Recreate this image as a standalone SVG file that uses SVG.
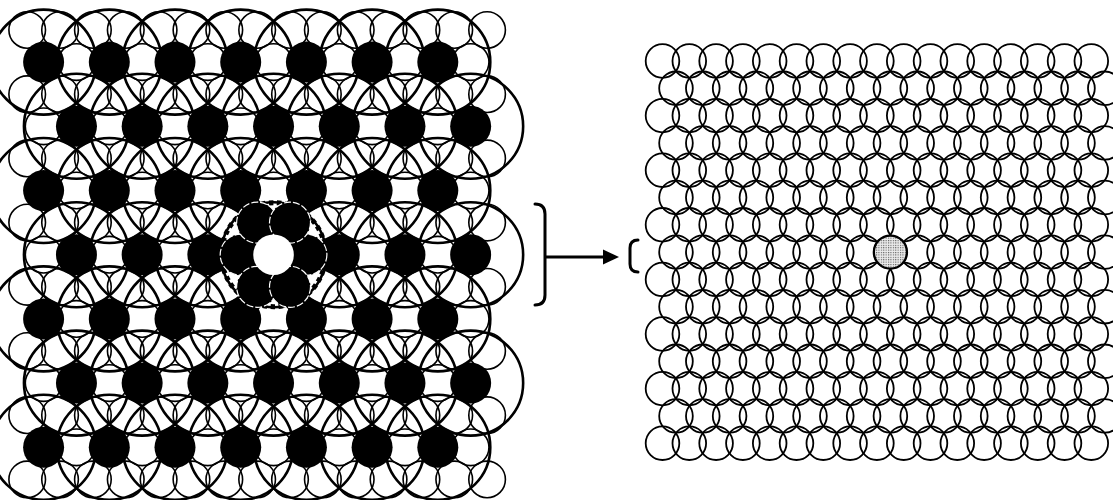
<svg xmlns="http://www.w3.org/2000/svg" xmlns:xlink="http://www.w3.org/1999/xlink" width="1113" height="500" viewBox="0 0 1113 500">
<style>
.s{fill:none;stroke:#000;stroke-width:1.6}
.L{fill:none;stroke:#000;stroke-width:2.6}
.b{fill:#000;stroke:none}
.r{fill:none;stroke:#000;stroke-width:1.8}
.petal{fill:#000;stroke:#fff;stroke-width:1.2;stroke-dasharray:7 2}
.conn{fill:none;stroke:#000;stroke-width:3;stroke-linecap:round;stroke-linejoin:round}
</style>
<defs>
<pattern id="dots" width="2.4" height="2.4" patternUnits="userSpaceOnUse"><rect width="2.4" height="2.4" fill="#ececec"/><rect width="1.1" height="1.1" fill="#555"/></pattern>
<g id="sEven" class="s"><circle cx="27.2" cy="0" r="18.3"/><circle cx="60.05" cy="0" r="18.3"/><circle cx="92.9" cy="0" r="18.3"/><circle cx="125.75" cy="0" r="18.3"/><circle cx="158.6" cy="0" r="18.3"/><circle cx="191.45" cy="0" r="18.3"/><circle cx="224.3" cy="0" r="18.3"/><circle cx="257.15" cy="0" r="18.3"/><circle cx="290" cy="0" r="18.3"/><circle cx="322.85" cy="0" r="18.3"/><circle cx="355.7" cy="0" r="18.3"/><circle cx="388.55" cy="0" r="18.3"/><circle cx="421.4" cy="0" r="18.3"/><circle cx="454.25" cy="0" r="18.3"/><circle cx="487.1" cy="0" r="18.3"/></g>
<g id="sOdd" class="s"><circle cx="43.6" cy="0" r="18.3"/><circle cx="76.45" cy="0" r="18.3"/><circle cx="109.3" cy="0" r="18.3"/><circle cx="142.15" cy="0" r="18.3"/><circle cx="175" cy="0" r="18.3"/><circle cx="207.85" cy="0" r="18.3"/><circle cx="240.7" cy="0" r="18.3"/><circle cx="273.55" cy="0" r="18.3"/><circle cx="306.4" cy="0" r="18.3"/><circle cx="339.25" cy="0" r="18.3"/><circle cx="372.1" cy="0" r="18.3"/><circle cx="404.95" cy="0" r="18.3"/><circle cx="437.8" cy="0" r="18.3"/><circle cx="470.65" cy="0" r="18.3"/></g>
<g id="LEven" class="L"><circle cx="43.6" cy="0" r="52.5"/><circle cx="109.3" cy="0" r="52.5"/><circle cx="175" cy="0" r="52.5"/><circle cx="240.7" cy="0" r="52.5"/><circle cx="306.4" cy="0" r="52.5"/><circle cx="372.1" cy="0" r="52.5"/><circle cx="437.8" cy="0" r="52.5"/></g>
<g id="LOdd" class="L"><circle cx="76.45" cy="0" r="52.5"/><circle cx="142.15" cy="0" r="52.5"/><circle cx="207.85" cy="0" r="52.5"/><circle cx="273.55" cy="0" r="52.5"/><circle cx="339.25" cy="0" r="52.5"/><circle cx="404.95" cy="0" r="52.5"/><circle cx="470.65" cy="0" r="52.5"/></g>
<g id="bEven" class="b"><circle cx="43.6" cy="0" r="20.5"/><circle cx="109.3" cy="0" r="20.5"/><circle cx="175" cy="0" r="20.5"/><circle cx="240.7" cy="0" r="20.5"/><circle cx="306.4" cy="0" r="20.5"/><circle cx="372.1" cy="0" r="20.5"/><circle cx="437.8" cy="0" r="20.5"/></g>
<g id="bOdd" class="b"><circle cx="76.45" cy="0" r="20.5"/><circle cx="142.15" cy="0" r="20.5"/><circle cx="207.85" cy="0" r="20.5"/><circle cx="273.55" cy="0" r="20.5"/><circle cx="339.25" cy="0" r="20.5"/><circle cx="404.95" cy="0" r="20.5"/><circle cx="470.65" cy="0" r="20.5"/></g>
<g id="rA" class="r"><circle cx="662.5" cy="0" r="16.8"/><circle cx="689.3" cy="0" r="16.8"/><circle cx="716.1" cy="0" r="16.8"/><circle cx="742.9" cy="0" r="16.8"/><circle cx="769.7" cy="0" r="16.8"/><circle cx="796.5" cy="0" r="16.8"/><circle cx="823.3" cy="0" r="16.8"/><circle cx="850.1" cy="0" r="16.8"/><circle cx="876.9" cy="0" r="16.8"/><circle cx="903.7" cy="0" r="16.8"/><circle cx="930.5" cy="0" r="16.8"/><circle cx="957.3" cy="0" r="16.8"/><circle cx="984.1" cy="0" r="16.8"/><circle cx="1010.9" cy="0" r="16.8"/><circle cx="1037.7" cy="0" r="16.8"/><circle cx="1064.5" cy="0" r="16.8"/><circle cx="1091.3" cy="0" r="16.8"/></g>
<g id="rB" class="r"><circle cx="676" cy="0" r="16.8"/><circle cx="702.8" cy="0" r="16.8"/><circle cx="729.6" cy="0" r="16.8"/><circle cx="756.4" cy="0" r="16.8"/><circle cx="783.2" cy="0" r="16.8"/><circle cx="810" cy="0" r="16.8"/><circle cx="836.8" cy="0" r="16.8"/><circle cx="863.6" cy="0" r="16.8"/><circle cx="890.4" cy="0" r="16.8"/><circle cx="917.2" cy="0" r="16.8"/><circle cx="944" cy="0" r="16.8"/><circle cx="970.8" cy="0" r="16.8"/><circle cx="997.6" cy="0" r="16.8"/><circle cx="1024.4" cy="0" r="16.8"/><circle cx="1051.2" cy="0" r="16.8"/><circle cx="1078" cy="0" r="16.8"/><circle cx="1104.8" cy="0" r="16.8"/></g>
</defs>
<rect width="1113" height="500" fill="#fff"/>
<g id="left-small-lattice">
<use xlink:href="#sEven" y="30"/><use xlink:href="#sOdd" y="62.1"/><use xlink:href="#sEven" y="94.2"/><use xlink:href="#sOdd" y="126.3"/><use xlink:href="#sEven" y="158.4"/><use xlink:href="#sOdd" y="190.5"/><use xlink:href="#sEven" y="222.6"/><use xlink:href="#sOdd" y="254.7"/><use xlink:href="#sEven" y="286.8"/><use xlink:href="#sOdd" y="318.9"/><use xlink:href="#sEven" y="351"/><use xlink:href="#sOdd" y="383.1"/><use xlink:href="#sEven" y="415.2"/><use xlink:href="#sOdd" y="447.3"/><use xlink:href="#sEven" y="479.4"/>
</g>
<g id="left-large-circles">
<use xlink:href="#LEven" y="62.1"/><use xlink:href="#LOdd" y="126.3"/><use xlink:href="#LEven" y="190.5"/><use xlink:href="#LOdd" y="254.7"/><use xlink:href="#LEven" y="318.9"/><use xlink:href="#LOdd" y="383.1"/><use xlink:href="#LEven" y="447.3"/>
</g>
<g id="defect-region">
<circle cx="273.55" cy="254.7" r="50" fill="#fff"/>
<circle cx="273.55" cy="254.7" r="52" fill="none" stroke="#000" stroke-width="5" stroke-dasharray="4.5 3.5"/>
</g>
<g id="left-black-atoms">
<use xlink:href="#bEven" y="62.1"/><use xlink:href="#bOdd" y="126.3"/><use xlink:href="#bEven" y="190.5"/><use xlink:href="#bOdd" y="254.7"/><use xlink:href="#bEven" y="318.9"/><use xlink:href="#bOdd" y="383.1"/><use xlink:href="#bEven" y="447.3"/>
</g>
<g id="defect-petals">
<circle class="petal" cx="240.7" cy="254.7" r="20.5"/>
<circle class="petal" cx="306.4" cy="254.7" r="20.5"/>
<circle class="petal" cx="257.15" cy="222.6" r="20.5"/>
<circle class="petal" cx="290" cy="222.6" r="20.5"/>
<circle class="petal" cx="257.15" cy="286.8" r="20.5"/>
<circle class="petal" cx="290" cy="286.8" r="20.5"/>
<circle cx="273.55" cy="254.7" r="20.3" fill="#fff"/>
</g>
<g id="right-lattice">
<use xlink:href="#rA" y="61"/><use xlink:href="#rB" y="88.3"/><use xlink:href="#rA" y="115.6"/><use xlink:href="#rB" y="142.9"/><use xlink:href="#rA" y="170.2"/><use xlink:href="#rB" y="197.5"/><use xlink:href="#rA" y="224.8"/><use xlink:href="#rB" y="252.1"/><use xlink:href="#rA" y="279.4"/><use xlink:href="#rB" y="306.7"/><use xlink:href="#rA" y="334"/><use xlink:href="#rB" y="361.3"/><use xlink:href="#rA" y="388.6"/><use xlink:href="#rB" y="415.9"/><use xlink:href="#rA" y="443.2"/>
</g>
<g id="right-defect">
<circle cx="890.4" cy="252.1" r="16.3" fill="url(#dots)" stroke="#000" stroke-width="1.8"/>
</g>
<g id="connectors">
<path class="conn" d="M535,204 Q545,204 545,214 L545,295 Q545,305 535,305"/>
<line class="conn" x1="546" y1="257" x2="606" y2="257"/>
<polygon points="603,249.5 619,257 603,264.5" fill="#000"/>
<path class="conn" d="M638,240 Q630,240 630,248 L630,264 Q630,272 638,272"/>
</g>
</svg>
